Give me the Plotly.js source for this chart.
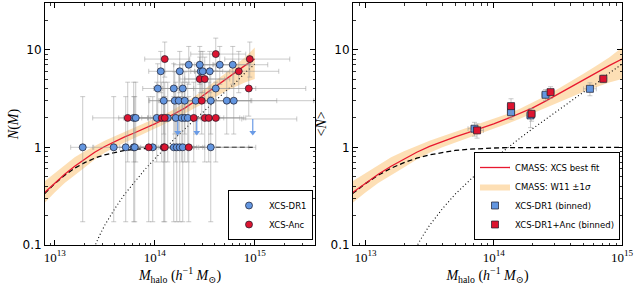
<!DOCTYPE html>
<html><head><meta charset="utf-8">
<script src="https://cdn.plot.ly/plotly-3.0.1.min.js"></script>
<style>html,body{margin:0;padding:0;background:#fff}#chart{width:638px;height:290px}</style>
</head><body><div id="chart"></div>
<script>
// ---------- model curves, log10 M grid ----------
const curveLogM = [12.9,13.0,13.1,13.2,13.3,13.4,13.5,13.6,13.7,13.8,13.9,14.0,14.1,14.2,14.3,14.4,14.5,14.6,14.7,14.8,14.9,15.0];
const fitN      = [0.345,0.43,0.53,0.64,0.75,0.89,1.02,1.15,1.28,1.41,1.56,1.74,1.95,2.20,2.52,2.95,3.50,4.15,4.95,5.85,6.85,8.00];
const cenN      = [0.336,0.425,0.519,0.611,0.697,0.774,0.838,0.889,0.929,0.954,0.973,0.984,0.992,0.996,0.998,0.999,1.0,1.0,1.0,1.0,1.0,1.0];
const bandLo    = [0.27,0.345,0.43,0.52,0.62,0.75,0.88,1.0,1.13,1.26,1.40,1.55,1.73,1.95,2.20,2.50,2.85,3.25,3.70,4.15,4.60,5.00];
const bandHi    = [0.45,0.545,0.66,0.79,0.91,1.04,1.17,1.30,1.44,1.58,1.75,1.95,2.18,2.47,2.85,3.33,3.95,4.70,5.65,6.85,8.30,10.5];
const satLogM   = [13.38,13.40,13.45,13.5,13.6,13.7,13.8,13.9,14.0,14.1,14.2,14.3,14.4,14.5,14.6,14.7,14.8,14.9,15.0];
const satN      = [0.0875,0.098,0.126,0.159,0.235,0.332,0.447,0.590,0.762,0.972,1.228,1.540,1.922,2.392,2.968,3.675,4.495,5.75,7.10];

// ---------- individual clusters (left panel) ----------
const dr1LogM = [13.28,13.59,13.71,13.79,13.80,13.98,14.19,14.22,14.25,14.28,14.56,
                 13.79,13.81,14.02,14.13,14.21,14.27,14.30,14.33,
                 14.09,14.20,14.24,14.30,14.41,14.56,14.72,14.79,
                 14.03,14.19,14.28,14.61,
                 14.06,14.25,14.46,14.48,14.55,
                 14.34,14.45,14.65,14.78];
const dr1N    = [1,1,1,1,1,1,1,1,1,1,1,
                 2,2,2,2,2,2,2,2,
                 3,3,3,3,3,3,3,3,
                 4,4,4,4,
                 6,6,6,6,6,
                 7,7,7,7];
const dr1XLo  = [0.12,0.2,0.15,0.2,0.15,0.2,0.25,0.2,0.15,0.2,0.3,
                 0.15,0.12,0.2,0.2,0.25,0.2,0.3,0.2,
                 0.15,0.25,0.2,0.25,0.3,0.3,0.25,0.3,
                 0.15,0.2,0.2,0.3,
                 0.12,0.15,0.1,0.2,0.15,
                 0.15,0.2,0.25,0.2];
const dr1XHi  = [0.1,0.2,0.15,0.2,0.12,0.2,0.25,0.2,0.3,0.2,0.45,
                 0.15,0.12,0.25,0.2,0.25,0.3,0.35,0.2,
                 0.2,0.3,0.25,0.3,0.35,0.4,0.5,0.8,
                 0.2,0.2,0.3,0.4,
                 0.18,0.15,0.1,0.2,0.2,
                 0.25,0.3,0.3,0.35];

const ancLogM = [13.94,14.09,14.10,14.34,
                 13.73,14.07,14.10,14.39,14.50,14.54,14.61,
                 14.47,14.94,14.45,14.50,14.84,14.10,14.95,14.61];
const ancN    = [1,1,1,1,
                 2,2,2,2,2,2,2,
                 3,4,5,5,6,8,8,9];
const ancXLo  = [0.25,0.25,0.3,0.3,
                 0.35,0.2,0.3,0.25,0.3,0.25,0.2,
                 0.35,0.32,0.2,0.2,0.3,0.2,0.25,0.25];
const ancXHi  = [0.3,0.3,0.4,0.6,
                 0.3,0.25,0.3,0.3,0.35,0.35,0.3,
                 0.5,0.57,0.25,0.25,0.4,0.25,0.4,0.3];

// Poisson (Gehrels) 1-sigma limits for N = 1..9
const poisLo = [0.173,0.708,1.367,2.086,2.840,3.620,4.419,5.232,6.057];
const poisHi = [3.300,4.638,5.918,7.163,8.382,9.584,10.77,11.95,13.11];

// upper limits (blue arrows)
const ulLogM = [14.23,14.42,14.98];
const ulTop  = [1.95,1.95,1.95];
const ulTip  = [1.42,1.42,1.42];
const ulXLo  = [0.15,0.15,0.11];
const ulXHi  = [0.2,0.2,0.44];

// ---------- binned (right panel) ----------
const binDr1LogM = [13.85,14.135,14.287,14.404,14.75];
const binDr1N    = [1.55,2.29,2.12,3.45,3.97];
const binDr1Up   = [0.25,0.35,0.36,0.45,0.6];
const binDr1Dn   = [0.25,0.35,0.53,0.45,0.6];
const binDr1X    = [0.05,0.03,0.03,0.03,0.05];
const binAncLogM = [13.87,14.135,14.295,14.443,14.854];
const binAncN    = [1.49,2.64,2.20,3.67,5.02];
const binAncUp   = [0.25,0.5,0.3,0.5,0.5];
const binAncDn   = [0.25,0.6,0.35,0.5,0.45];
const binAncX    = [0.05,0.03,0.03,0.03,0.03];

// ---------- helpers ----------
const lin = a => a.map(v => Math.pow(10, v));
const xPlus  = (lm, d) => lm.map((v,i) => Math.pow(10, v + d[i]) - Math.pow(10, v));
const xMinus = (lm, d) => lm.map((v,i) => Math.pow(10, v) - Math.pow(10, v - d[i]));
const yUp = n => n.map(v => poisHi[v-1] - v);
const yDn = n => n.map(v => v - poisLo[v-1]);

const BLUE = '#6396e0', RED = '#dc1430', EDGE = '#1a1a2a';
const GREY = 'rgba(150,150,150,0.5)';
const BAND = 'rgba(252,196,120,0.55)';
const ARROW = '#6a9be6';
const serif = 'Liberation Serif, DejaVu Serif, serif';
const sans = 'DejaVu Sans, sans-serif';

const traces = [];
function curves(xa, ya, legendName, showLeg) {
  const bx = lin(curveLogM);
  traces.push({x: bx.concat(bx.slice().reverse()), y: bandHi.concat(bandLo.slice().reverse()),
    xaxis: xa, yaxis: ya, type:'scatter', mode:'lines', fill:'toself', fillcolor: BAND,
    line:{width:0, color:'rgba(0,0,0,0)'}, name:'CMASS: W11 ±1<i>σ</i>', hoverinfo:'skip',
    showlegend: showLeg, legend: legendName, legendrank: 2});
  traces.push({x: lin(curveLogM), y: cenN, xaxis: xa, yaxis: ya, type:'scatter', mode:'lines',
    line:{color:'black', width:1.3, dash:'5px,3px'}, showlegend:false, hoverinfo:'skip'});
  traces.push({x: lin(satLogM), y: satN, xaxis: xa, yaxis: ya, type:'scatter', mode:'lines',
    line:{color:'black', width:1.1, dash:'1px,2.5px'}, showlegend:false, hoverinfo:'skip'});
  traces.push({x: lin(curveLogM), y: fitN, xaxis: xa, yaxis: ya, type:'scatter', mode:'lines',
    line:{color: '#e8182f', width:1.3}, name:'CMASS: XCS best fit', hoverinfo:'skip',
    showlegend: showLeg, legend: legendName, legendrank: 1});
}

// left panel
curves('x', 'y', 'legend', false);
function errTrace(lm, n, xlo, xhi, up, dn, xa, ya) {
  return {x: lin(lm), y: n, xaxis: xa, yaxis: ya, type:'scatter', mode:'markers',
    marker:{size:2, color:'rgba(0,0,0,0)'}, showlegend:false, hoverinfo:'skip',
    error_x:{type:'data', symmetric:false, array:xPlus(lm,xhi), arrayminus:xMinus(lm,xlo), color:GREY, thickness:1, width:2.5},
    error_y:{type:'data', symmetric:false, array:up, arrayminus:dn, color:GREY, thickness:1, width:2.5}};
}
traces.push(errTrace(dr1LogM, dr1N, dr1XLo, dr1XHi, yUp(dr1N), yDn(dr1N), 'x', 'y'));
traces.push(errTrace(ancLogM, ancN, ancXLo, ancXHi, yUp(ancN), yDn(ancN), 'x', 'y'));
traces.push({x: lin(ulLogM), y: ulTop, xaxis:'x', yaxis:'y', type:'scatter', mode:'markers',
  marker:{size:2, color:'rgba(0,0,0,0)'}, showlegend:false, hoverinfo:'skip',
  error_x:{type:'data', symmetric:false, array:xPlus(ulLogM,ulXHi), arrayminus:xMinus(ulLogM,ulXLo), color:GREY, thickness:1, width:2.5}});
// upper-limit arrows: shaft as an error bar, head as a down triangle
traces.push({x: lin(ulLogM), y: ulTip, xaxis:'x', yaxis:'y', type:'scatter', mode:'markers',
  marker:{symbol:'triangle-down', size:6, color:ARROW, line:{width:0}}, showlegend:false, hoverinfo:'skip',
  error_y:{type:'data', symmetric:false, array:ulTop.map((v,i) => v - ulTip[i]), arrayminus:ulTip.map(() => 0), color:ARROW, thickness:1.2, width:0}});
traces.push({x: lin(dr1LogM), y: dr1N, xaxis:'x', yaxis:'y', type:'scatter', mode:'markers', name:'XCS-DR1',
  marker:{symbol:'circle', size:7, color:BLUE, line:{color:EDGE, width:0.7}}, legend:'legend'});
traces.push({x: lin(ancLogM), y: ancN, xaxis:'x', yaxis:'y', type:'scatter', mode:'markers', name:'XCS-Anc',
  marker:{symbol:'circle', size:7, color:RED, line:{color:EDGE, width:0.7}}, legend:'legend'});

// right panel
curves('x2', 'y2', 'legend2', true);
traces.push({x: lin(binDr1LogM), y: binDr1N, xaxis:'x2', yaxis:'y2', type:'scatter', mode:'markers',
  name:'XCS-DR1 (binned)', legend:'legend2', legendrank:3,
  marker:{symbol:'square', size:7, color:BLUE, line:{color:EDGE, width:0.7}},
  error_x:{type:'data', symmetric:false, array:xPlus(binDr1LogM,binDr1X), arrayminus:xMinus(binDr1LogM,binDr1X), color:GREY, thickness:1, width:2.5},
  error_y:{type:'data', symmetric:false, array:binDr1Up, arrayminus:binDr1Dn, color:GREY, thickness:1, width:2.5}});
traces.push({x: lin(binAncLogM), y: binAncN, xaxis:'x2', yaxis:'y2', type:'scatter', mode:'markers',
  name:'XCS-DR1+Anc (binned)', legend:'legend2', legendrank:4,
  marker:{symbol:'square', size:7, color:RED, line:{color:EDGE, width:0.7}},
  error_x:{type:'data', symmetric:false, array:xPlus(binAncLogM,binAncX), arrayminus:xMinus(binAncLogM,binAncX), color:GREY, thickness:1, width:2.5},
  error_y:{type:'data', symmetric:false, array:binAncUp, arrayminus:binAncDn, color:GREY, thickness:1, width:2.5}});

// ---------- axes ----------
const xMajor = [1e13, 1e14, 1e15];
const xMajorText = ['10<sup>13</sup>', '10<sup>14</sup>', '10<sup>15</sup>'];
const yMajor = [0.1, 1, 10];
const yMajorText = ['0.1', '1', '10'];
const minorX = [], minorY = [];
for (const d of [1e12, 1e13, 1e14, 1e15]) for (let k = 2; k <= 9; k++) minorX.push(k*d);
for (const d of [0.1, 1, 10]) for (let k = 2; k <= 9; k++) minorY.push(k*d);

const xTitle = '<i>M</i><sub>halo</sub> (<i>h</i><sup>−1</sup> <i>M</i><sub>⊙</sub>)';
function xax(dom, rng) {
  return {type:'log', domain:dom, range:rng, tickmode:'array', tickvals:xMajor, ticktext:xMajorText,
    ticks:'inside', ticklen:5, tickwidth:1, tickcolor:'black', showline:true, linecolor:'black', linewidth:1,
    mirror:'allticks', showgrid:false, zeroline:false,
    minor:{tickmode:'array', tickvals:minorX, ticks:'inside', ticklen:2.5, tickwidth:0.8, tickcolor:'black', showgrid:false},
    tickfont:{family:serif, size:13, color:'black'},
    title:{text:xTitle, font:{family:serif, size:14, color:'black'}, standoff:6}};
}
function yax(dom, anchor, title) {
  return {type:'log', domain:dom, range:[-1, Math.log10(30)], anchor:anchor, tickmode:'array', tickvals:yMajor, ticktext:yMajorText,
    ticks:'inside', ticklen:5, tickwidth:1, tickcolor:'black', showline:true, linecolor:'black', linewidth:1,
    mirror:'allticks', showgrid:false, zeroline:false,
    minor:{tickmode:'array', tickvals:minorY, ticks:'inside', ticklen:2.5, tickwidth:0.8, tickcolor:'black', showgrid:false},
    tickfont:{family:sans, size:12, color:'black'},
    title:{text:title, font:{family:serif, size:14, color:'black'}, standoff:0}};
}

const yDom = [45/290, 287/290];
const layout = {
  width:638, height:290, margin:{l:0, r:0, t:0, b:0}, paper_bgcolor:'white', plot_bgcolor:'white',
  xaxis: Object.assign(xax([45/638, 315/638], [Math.log10(8e12), Math.log10(4e15)]), {anchor:'y'}),
  yaxis: yax(yDom, 'x', '<i>N</i>(<i>M</i>)'),
  xaxis2: Object.assign(xax([353/638, 622/638], [Math.log10(8e12), 15]), {anchor:'y2'}),
  yaxis2: yax(yDom, 'x2', '&lt;<i>N</i>&gt;'),
  legend:{x:313/638, xanchor:'right', y:50/290, yanchor:'bottom', bgcolor:'white', bordercolor:'black', borderwidth:1,
    font:{family:sans, size:8.5, color:'black'}, itemwidth:30, tracegroupgap:0},
  legend2:{x:620/638, xanchor:'right', y:50/290, yanchor:'bottom', bgcolor:'white', bordercolor:'black', borderwidth:1,
    font:{family:sans, size:8.5, color:'black'}, itemwidth:30, tracegroupgap:0},
  showlegend:true
};
Plotly.newPlot('chart', traces, layout, {displayModeBar:false, staticPlot:true});
</script>
</body></html>
